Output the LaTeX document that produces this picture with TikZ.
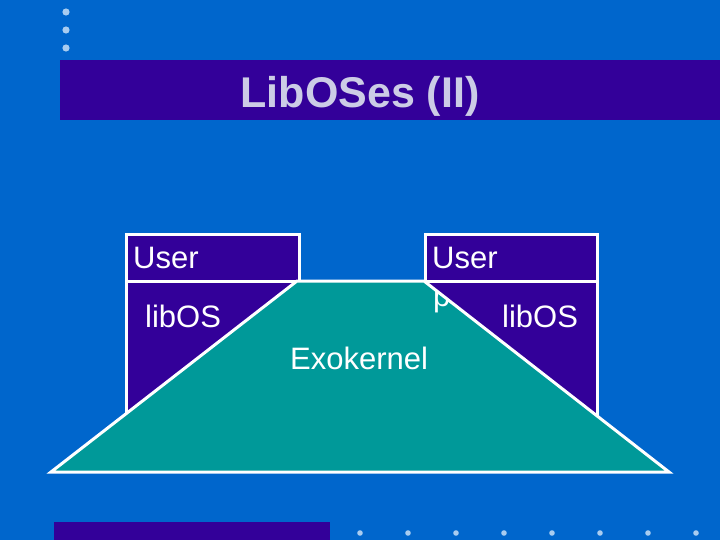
\documentclass[tikz,border=0pt]{standalone}
\usepackage{fontspec}
\setmainfont{Liberation Sans}
\definecolor{bgblue}{HTML}{0066CC}
\definecolor{navy}{HTML}{330099}
\definecolor{tealx}{HTML}{009999}
\definecolor{dotc}{HTML}{A8CCF0}
\definecolor{titlec}{HTML}{CCCCE6}
\tikzset{
  box/.style={draw=white, line width=3pt, fill=navy},
  lbl/.style={text=white, font=\fontsize{31}{31}\selectfont, anchor=base west, inner sep=0pt},
  dotm/.style={fill=dotc, draw=none}
}
\begin{document}
\begin{tikzpicture}[x=1pt,y=-1pt]
\fill[bgblue] (0,0) rectangle (720,540);
\useasboundingbox (0,0) rectangle (720,540);
% top-left dots
\foreach \y in {12,30,48} \fill[dotm] (66,\y) circle (3.6);
% title bar
\fill[navy] (60,60) rectangle (720,120);
\node[text=titlec, font=\bfseries\fontsize{43}{43}\selectfont, anchor=base, inner sep=0pt] (title) at (360,108) {LibOSes (II)};
% boxes
\draw[box] (126,234) rectangle (299,430);
\draw[white, line width=3pt] (126,281) -- (299,281);
\draw[box] (425,234) rectangle (597,430);
\draw[white, line width=3pt] (425,281) -- (597,281);
\node[lbl] (u1) at (133,268) {User};
\node[lbl] (l1) at (145,327) {libOS};
\node[lbl] (u2) at (432,268) {User};
\node[lbl] (l2) at (502,327) {libOS};
% exokernel trapezoid
\fill[tealx] (51,472) -- (297,281) -- (424,281) -- (669,472) -- cycle;
\begin{scope}
\clip (51,472) -- (297,281) -- (424,281) -- (669,472) -- cycle;
\node[lbl, text=white] (p) at (433,306) {p};
\end{scope}
\draw[white, line width=3pt, line join=miter] (51,472) -- (297,281) -- (424,281) -- (669,472) -- cycle;
\node[lbl] (exo) at (290,369) {Exokernel};
% bottom bar and dots
\fill[navy] (54,522) rectangle (330,540);
\foreach \x in {360,408,456,504,552,600,648,696} \fill[dotm] (\x,533) circle (2.8);
\end{tikzpicture}
\end{document}
